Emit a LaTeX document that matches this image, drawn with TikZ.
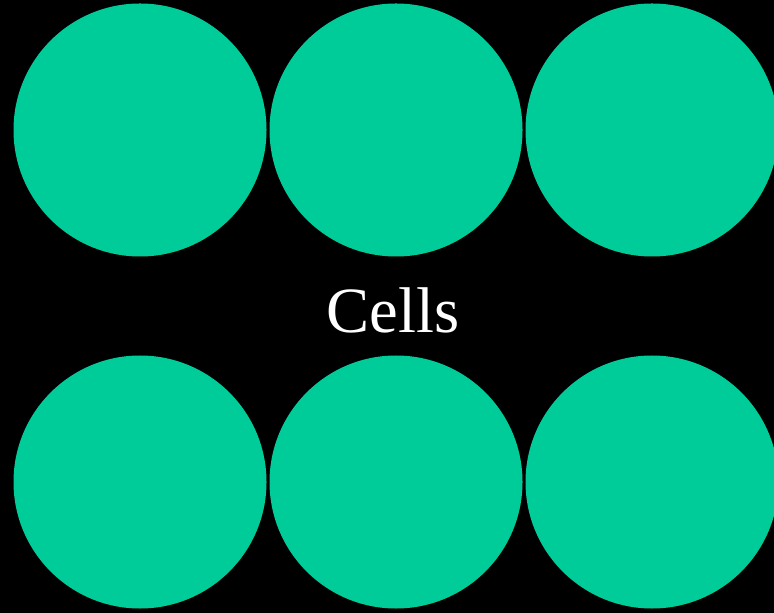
\documentclass[tikz,border=0pt]{standalone}
\usepackage{fontspec}
\setmainfont{Liberation Serif}
\usetikzlibrary{positioning}
\definecolor{cellgreen}{HTML}{00CC99}
\definecolor{backblack}{HTML}{000000}

\begin{document}
\begin{tikzpicture}[
  x=0.5pt, y=-0.5pt,
  cell/.style={circle, fill=cellgreen, minimum size=126.5pt, inner sep=0pt},
  caption/.style={text=white, font=\fontsize{32.3}{36}\selectfont, inner sep=0pt}
]

\useasboundingbox (0,0) rectangle (774,613);
\fill[backblack] (0,0) rectangle (774,613);
\clip (0,0) rectangle (774,613);

\node[cell] (celltopleft) at (140,130) {};
\node[cell] (celltopmid) at (396,130) {};
\node[cell] (celltopright) at (652,130) {};

\node[cell] (cellbotleft) at (140,482) {};
\node[cell] (cellbotmid) at (396,482) {};
\node[cell] (cellbotright) at (652,482) {};

\node[caption] (cellslabel) at (393,310) {Cells};

\end{tikzpicture}
\end{document}
